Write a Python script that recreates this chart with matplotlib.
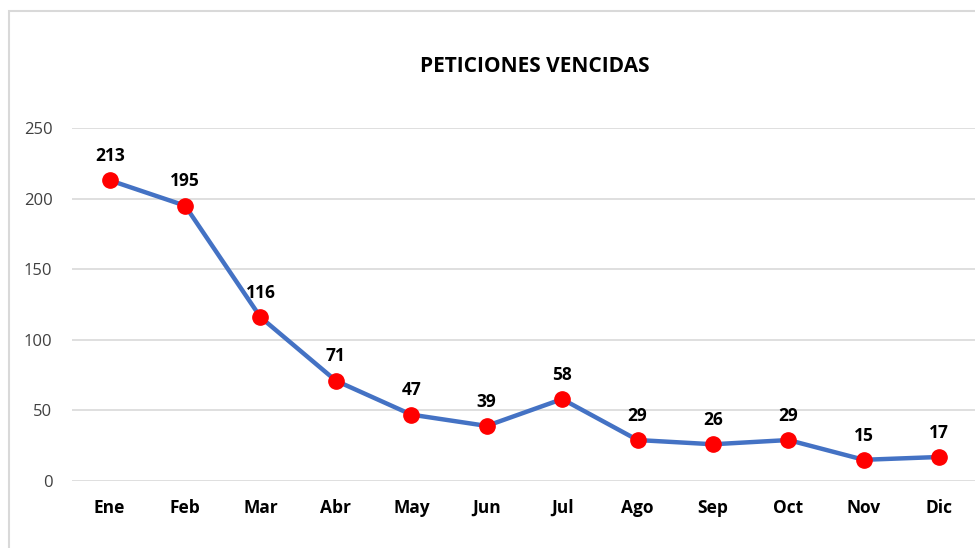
import numpy as np
import matplotlib.pyplot as plt
from matplotlib.patches import Rectangle

#Datos del grafico.
meses = ['Ene', 'Feb', 'Mar', 'Abr', 'May', 'Jun', 'Jul', 'Ago', 'Sep', 'Oct', 'Nov', 'Dic']
peticiones = [213, 195, 116, 71, 47, 39, 58, 29, 26, 29, 15, 17]
marcas_y = [0, 50, 100, 150, 200, 250]

plt.rcParams['font.family'] = ['Open Sans', 'DejaVu Sans']

fig = plt.figure(figsize=(9.75, 5.48), dpi=100)
ax = fig.add_axes([0.0738, 0.1223, 0.9282, 0.6441])

#Marco exterior del grafico.
fig.patches.append(Rectangle((9/975, -0.1), 1.1, 1 - 11/548 + 0.1, transform=fig.transFigure,
                             fill=False, edgecolor='#d9d9d9', linewidth=1.5))

x = np.arange(len(meses))
ax.plot(x, peticiones, color='#4472C4', linewidth=3.2, marker='o', markersize=11,
        markerfacecolor='#FF0000', markeredgecolor='#FF0000', zorder=3)

#Etiquetas de datos.
for xi, v in zip(x, peticiones):
    ax.annotate(str(v), (xi, v), xytext=(0, 11), textcoords='offset points',
                ha='center', va='bottom', fontsize=12.5, fontweight='bold', color='black')

ax.set_xlim(-0.5, len(meses) - 0.5)
ax.set_ylim(0, 250)
ax.set_yticks(marcas_y)
ax.set_xticks(x)
ax.set_xticklabels(meses, fontweight='bold', fontsize=12.5, color='black')
ax.tick_params(axis='y', labelsize=12, labelcolor='#404040', length=0, pad=14)
ax.tick_params(axis='x', length=0, pad=13)
ax.grid(axis='y', color='#d9d9d9', linewidth=1.2)
ax.set_axisbelow(True)
for s in ax.spines.values():
    s.set_visible(False)

fig.text(535/975, 1 - 66/548, 'PETICIONES VENCIDAS', ha='center', va='center',
         fontsize=15, fontweight='bold', color='black')

fig.savefig('out.png', dpi=100)
